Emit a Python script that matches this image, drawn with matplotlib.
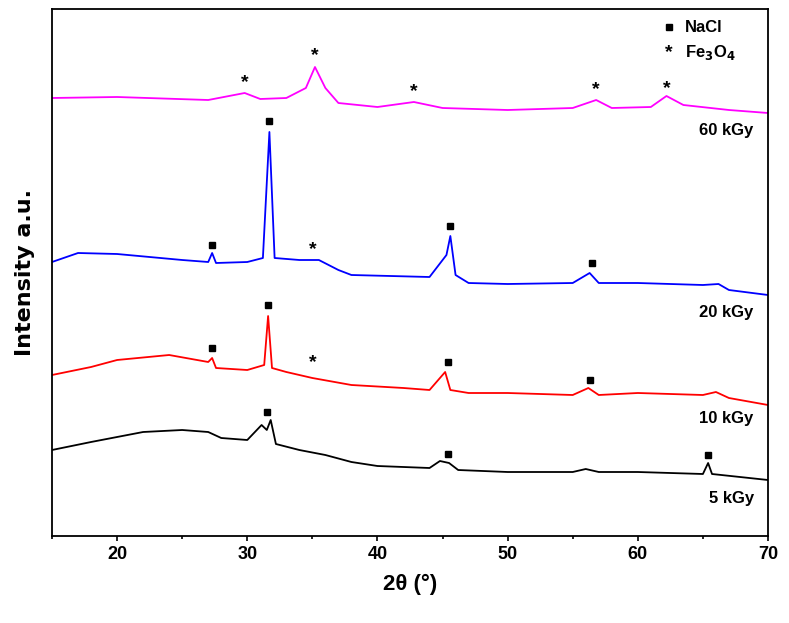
import matplotlib
matplotlib.use("Agg")
import matplotlib.pyplot as plt
import numpy as np
from matplotlib import font_manager

names = {f.name for f in font_manager.fontManager.ttflist}
FONT = "Liberation Sans Narrow" if "Liberation Sans Narrow" in names else "Liberation Sans"
plt.rcParams["font.family"] = FONT

H = 515  # intensity = H - pixel row (arbitrary units)
mag_x = [15,20,27,29.8,31,33,34.5,35.2,36,37,40,42.8,45,50,55,56.8,58,61,62.2,63.5,67,70]
mag_y = [98,97,100,93,99,98,88,67,88,103,107,102,108,110,108,100,108,107,96,105,110,113]
blu_x = [15,17,20,25,27,27.3,27.6,30,31.2,31.7,32.1,34,35.5,37,38,44,45.3,45.6,46,47,50,55,56.3,57,60,65,66.2,67,70]
blu_y = [262,253,254,260,262,253,263,262,258,132,258,260,260,270,275,277,255,236,275,283,284,283,273,283,283,285,284,290,295]
red_x = [15,18,20,24,27,27.3,27.6,30,31.3,31.6,31.9,33,35,38,42,44,45.2,45.6,47,50,55,56.2,57,60,65,66,67,70]
red_y = [375,367,360,355,362,358,368,370,365,316,368,372,378,385,388,390,372,390,393,393,395,388,395,393,395,392,398,405]
blk_x = [15,18,22,25,27,28,30,31.1,31.5,31.8,32.2,34,36,38,40,44,44.8,45.5,46.2,50,55,56,57,60,65,65.4,65.7,70]
blk_y = [450,442,432,430,432,438,440,425,430,420,444,450,455,462,466,468,461,463,470,472,472,469,472,472,474,463,474,480]

series = [(mag_x, mag_y, "#ff00ff", "60 kGy", 130),
          (blu_x, blu_y, "#0000ff", "20 kGy", 312),
          (red_x, red_y, "#ff0000", "10 kGy", 419),
          (blk_x, blk_y, "#000000", "5 kGy", 499)]

nacl_x = [31.7, 27.3, 45.6, 56.5, 31.6, 27.3, 45.4, 56.3, 31.5, 45.4, 65.4]
nacl_y = [121, 245, 226, 263, 305, 348, 362, 380, 412, 454, 455]
fe_x = [29.8, 35.2, 42.8, 56.8, 62.2, 35.0, 35.0]
fe_y = [83, 56, 92, 90, 89, 250, 363]

fig = plt.figure(figsize=(7.89, 6.23), dpi=100)
ax = fig.add_axes([52/789, 1-536/623, (768-52)/789, 527/623])
for x, y, c, lab, ly in series:
    ax.plot(x, [H - v for v in y], color=c, lw=1.3)
    ax.text(68.9, H - ly, lab, fontsize=12, fontweight="bold", ha="right", va="center")
ax.plot(nacl_x, [H - v for v in nacl_y], "s", color="black", ms=5, ls="none")
for fx, fy in zip(fe_x, fe_y):
    ax.text(fx, H - fy, "*", fontsize=14, fontweight="bold", ha="center", va="center")
ax.plot([62.4], [H - 27], "s", color="black", ms=5)
ax.text(62.4, H - 53, "*", fontsize=14, fontweight="bold", ha="center", va="center")
ax.text(63.6, H - 27, "NaCl", fontsize=12, fontweight="bold", va="center")
ax.text(63.6, H - 53, "Fe$_\\mathbf{3}$O$_\\mathbf{4}$", fontsize=12, fontweight="bold", va="center")
ax.set_xlim(15, 70)
ax.set_ylim(H - 536, H - 9)
ax.set_yticks([])
ax.set_xticks([20, 30, 40, 50, 60, 70])
ax.set_xticks(np.arange(15, 71, 5), minor=True)
ax.tick_params(axis="x", which="both", labelsize=13, direction="out", width=1.2)
for lbl in ax.get_xticklabels():
    lbl.set_fontweight("bold")
for s in ax.spines.values():
    s.set_linewidth(1.3)
ax.set_xlabel("2θ (°)", fontsize=16, fontweight="bold", labelpad=8)
ax.set_ylabel("Intensity a.u.", fontsize=16, fontweight="bold", family="DejaVu Sans", labelpad=12)
fig.savefig("out.png", dpi=100)
